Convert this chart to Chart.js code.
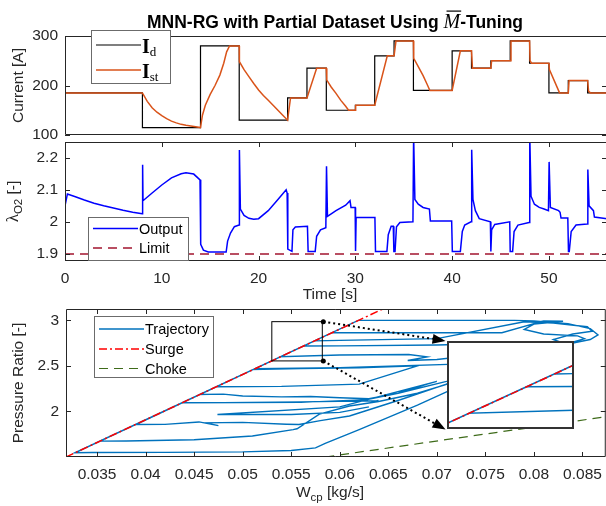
<!DOCTYPE html>
<html lang="en">
<head>
<meta charset="UTF-8">
<title>MNN-RG with Partial Dataset</title>
<script src="https://cdn.jsdelivr.net/npm/chart.js"></script>
<style>
  body { margin: 0; background: #fff; overflow: hidden; }
  #wrap { position: relative; width: 606px; height: 506px; overflow: hidden; background: #fff; }
  canvas { position: absolute; left: 0; top: 0; }
</style>
</head>
<body>
<div id="wrap">
  <canvas id="cTop" width="610" height="506"></canvas>
  <canvas id="cMid" width="610" height="506"></canvas>
  <canvas id="cBot" width="610" height="506"></canvas>
  <canvas id="cIns" width="10" height="10"></canvas>
</div>
<script>
// ---------- data ----------
// demanded current I_d : step times [s] and the level that starts there [A]
const idTime  = [0, 8, 14, 18, 23, 25, 27, 30, 32, 34, 36, 40, 42, 44, 46, 48, 50, 52, 54, 56];
const idLevel = [185, 115, 280, 130, 175, 235, 150, 160, 260, 290, 190, 270, 235, 250, 290, 245, 185, 210, 185, 185];

// stack current I_st
const istTime = [0, 8, 8.5, 9, 9.5, 10, 10.5, 11, 11.5, 12, 12.5, 13, 13.5, 14,
  14.2, 14.5, 15, 15.5, 16, 16.4, 16.7, 17, 18,
  18.02, 18.5, 19, 19.5, 20, 20.5, 21, 21.5, 22, 22.5, 23,
  23.3, 25, 26, 27, 27.05, 27.5, 28, 28.5, 29, 29.3, 30, 30.03, 32, 33.3, 34, 34.2, 36,
  36.03, 36.5, 37, 37.4, 37.7, 40, 40.85, 42, 42.1, 44, 44.08, 46, 46.08, 48, 48.05, 48.2, 50,
  50.05, 51.1, 52, 52.08, 54, 54.1, 54.3, 56];
const istValue = [185, 185, 168, 155, 146, 139, 133, 128, 124.5, 121.5, 119.5, 118, 116.5, 115,
  140, 160, 182, 200, 221, 245, 268, 280, 280,
  248, 232, 218, 204, 191, 180, 170, 160, 150, 140, 130,
  175, 175, 235, 235, 211, 197, 184, 170, 158, 150, 150, 160, 160, 260, 260, 290, 290,
  255, 238, 220, 203, 190, 190, 270, 270, 235, 235, 250, 250, 290, 290, 250, 245, 245,
  232, 185, 185, 210, 210, 188, 185, 185];

// oxygen excess ratio lambda_O2
const lamTime = [0, 0.25, 1, 2, 3, 4, 5, 6, 7, 7.98, 8.02, 8.06, 9, 10, 11, 12, 12.5, 13.3, 13.95,
  14.02, 14.3, 14.8, 16.65, 16.8, 17.1, 17.5, 17.98, 18.02, 18.12, 18.5, 19, 19.5, 20, 21, 22, 22.85, 22.95,
  23.02, 23.45, 23.55, 23.8, 25.05, 25.12, 25.85, 26, 26.4, 26.95, 27.02, 27.12, 28, 29, 29.45, 29.55, 29.98,
  30.02, 30.08, 32.02, 32.08, 33.26, 33.4, 33.7, 33.92, 33.98, 34.1, 34.25, 34.6, 35.95,
  36.02, 36.15, 36.5, 37, 37.65, 37.75, 39.95, 40.02, 40.85, 41.05, 41.3, 41.95,
  42.02, 42.15, 42.4, 42.8, 43.95, 44, 44.08, 44.4, 45.95, 46, 46.25, 46.4, 46.8, 47.95,
  48.02, 48.15, 48.5, 49, 49.5, 49.95, 50.02, 50.15, 51, 51.15, 51.25, 51.95,
  52.02, 52.1, 52.3, 52.8, 53.95, 54.02, 54.15, 54.6, 54.7, 56];
const lamValue = [2.05, 2.087, 2.079, 2.068, 2.058, 2.05, 2.043, 2.036, 2.03, 2.025, 2.178, 2.066, 2.09, 2.115, 2.137, 2.15, 2.153, 2.149, 2.131,
  1.93, 1.912, 1.906, 1.906, 1.94, 1.965, 1.985, 1.99, 2.224, 2.04, 2.02, 2.011, 2.008, 2.01, 2.035, 2.07, 2.1, 2.09,
  1.915, 1.908, 1.975, 1.984, 1.986, 1.908, 1.908, 1.955, 1.975, 1.982, 2.173, 2.017, 2.035, 2.052, 2.066, 2.045, 2.045,
  1.909, 2.014, 2.014, 1.908, 1.908, 1.96, 1.986, 1.986, 1.908, 1.908, 1.985, 1.998, 2.0,
  2.27, 2.07, 2.055, 2.045, 2.04, 2.003, 2.003, 1.908, 1.908, 1.97, 1.99, 2.0,
  2.225, 2.07, 2.035, 2.01, 2.0, 1.908, 1.975, 1.992, 2.0, 1.908, 1.908, 1.97, 1.99, 1.998,
  2.27, 2.08, 2.055, 2.045, 2.04, 2.035, 2.187, 2.045, 2.035, 2.03, 2.012, 2.012,
  1.908, 1.908, 1.97, 1.99, 1.993, 2.163, 2.05, 2.035, 2.015, 2.01];
const lamLimit = 1.9;

// compressor map: trajectory (W_cp [kg/s], pressure ratio [-])
const trajW = [0.0640, 0.0638, 0.0560, 0.0480, 0.04375, 0.03272, 0.0345, 0.0420, 0.0500, 0.0550, 0.0575,
  0.0585, 0.0620, 0.0680, 0.0740, 0.0790, 0.0830, 0.0858, 0.0866, 0.0858, 0.0835, 0.0800, 0.0780, 0.0700, 0.0619,
  0.03529, 0.0380, 0.0450, 0.0510, 0.0552, 0.0556, 0.0579, 0.0610, 0.0640,
  0.0680, 0.0720, 0.0760, 0.0755, 0.0720, 0.0600, 0.05128,
  0.03905, 0.0420, 0.0455, 0.0475, 0.0462, 0.0500, 0.0545, 0.0558,
  0.0580, 0.0610, 0.0660, 0.0709, 0.0760, 0.0810, 0.0840, 0.0852, 0.0845, 0.0810, 0.0790, 0.0800, 0.0830, 0.0810,
  0.0767, 0.0650, 0.05921, 0.04560, 0.0480, 0.0500, 0.0540, 0.0570, 0.0600, 0.0630,
  0.0660, 0.0710, 0.0760, 0.0800, 0.0830, 0.0835, 0.0810,
  0.0700, 0.0600, 0.05626, 0.05391, 0.0600, 0.0671, 0.0690, 0.0670, 0.0700,
  0.0760, 0.0800, 0.0830, 0.0820, 0.0840, 0.0860, 0.0855, 0.0820, 0.0790,
  0.0700, 0.0600, 0.05740, 0.05112, 0.0560, 0.0620, 0.0680,
  0.0620, 0.0540, 0.04728, 0.04375, 0.0500, 0.0560, 0.0628,
  0.0660, 0.0690, 0.0700, 0.0600, 0.0474, 0.0550, 0.0600, 0.0630];
const trajP = [2.120, 2.118, 2.105, 2.097, 2.095, 1.546, 1.549, 1.551, 1.556, 1.572, 1.600,
  1.650, 1.800, 2.070, 2.360, 2.580, 2.730, 2.790, 2.840, 2.910, 2.965, 2.995, 3.000, 3.000, 3.000,
  1.674, 1.676, 1.690, 1.730, 1.800, 1.810, 1.970, 2.060, 2.110,
  2.200, 2.330, 2.470, 2.520, 2.520, 2.480, 2.470,
  1.857, 1.858, 1.885, 1.845, 1.875, 1.880, 1.860, 1.857,
  1.900, 1.950, 2.120, 2.297, 2.520, 2.700, 2.760, 2.800, 2.830, 2.850, 2.900, 2.960, 2.990, 2.995,
  2.865, 2.865, 2.865, 2.187, 2.190, 2.170, 2.160, 2.165, 2.150, 2.140,
  2.200, 2.330, 2.480, 2.620, 2.700, 2.740, 2.760,
  2.730, 2.720, 2.718, 2.601, 2.620, 2.626, 2.600, 2.560, 2.570,
  2.640, 2.720, 2.750, 2.790, 2.850, 2.880, 2.930, 2.970, 2.985,
  2.800, 2.780, 2.775, 2.462, 2.470, 2.480, 2.500,
  2.300, 2.275, 2.271, 2.095, 2.097, 2.100, 2.130,
  2.200, 2.300, 2.330, 2.050, 1.967, 1.967, 1.990, 2.050];
const surgeW = [0.0318, 0.0650];
const surgeP = [1.5, 3.153];
const chokeW = [0.0585, 0.0880];
const chokeP = [1.5, 1.951];
const zoomBoxW = [0.0530, 0.0582];      // small box on the map
const zoomBoxP = [2.555, 2.986];
const insetViewW = [0.0530, 0.0582];    // limits shown in the inset
const insetViewP = [2.531, 2.921];
const insetPlaceW = [0.0710, 0.0841];   // where the inset sits on the map
const insetPlaceP = [1.802, 2.775];

// ticks
const topYTicks = [100, 200, 300];
const midYTicks = [1.9, 2, 2.1, 2.2];
const timeTicks = [0, 10, 20, 30, 40, 50];
const botYTicks = [2, 2.5, 3];
const wTicks = [0.035, 0.04, 0.045, 0.05, 0.055, 0.06, 0.065, 0.07, 0.075, 0.08, 0.085];

// ---------- helpers ----------
const AX = '#262626';
const SANS = '"Liberation Sans", Arial, sans-serif';
Chart.defaults.font.family = SANS;
Chart.defaults.font.size = 15.5;
Chart.defaults.color = AX;
Chart.defaults.animation = false;

const pts = (xs, ys) => xs.map((x, i) => ({x: x, y: ys[i]}));
const fixTicks = vals => s => { s.ticks = vals.map(v => ({value: v})); };

// box + inward tick marks like matlab
const boxPlugin = {
  id: 'mbox',
  afterDatasetsDraw(chart, args, o) {
    const {ctx, chartArea: a, scales} = chart;
    ctx.save();
    ctx.strokeStyle = AX;
    ctx.lineWidth = 1;
    ctx.beginPath();
    ctx.rect(a.left + 0.5, a.top + 0.5, a.right - a.left - 1, a.bottom - a.top - 1);
    (o.x || []).forEach(v => {
      const p = Math.round(scales.x.getPixelForValue(v)) + 0.5;
      ctx.moveTo(p, a.top); ctx.lineTo(p, a.top + 5);
      ctx.moveTo(p, a.bottom); ctx.lineTo(p, a.bottom - 5);
    });
    (o.y || []).forEach(v => {
      const p = Math.round(scales.y.getPixelForValue(v)) + 0.5;
      ctx.moveTo(a.left, p); ctx.lineTo(a.left + 5, p);
      ctx.moveTo(a.right, p); ctx.lineTo(a.right - 5, p);
    });
    ctx.stroke();
    ctx.restore();
  }
};

// text pieces: [text, font, dy, overbar]
function drawPieces(ctx, x, y, pieces, align) {
  let w = 0;
  pieces.forEach(p => { ctx.font = p[1]; w += ctx.measureText(p[0]).width; });
  let cx = align === 'center' ? x - w / 2 : x;
  pieces.forEach(p => {
    ctx.font = p[1];
    const pw = ctx.measureText(p[0]).width;
    ctx.fillText(p[0], cx, y + (p[2] || 0));
    if (p[3]) {
      ctx.fillRect(cx + 3, y - p[3], pw - 2, 1.2);
    }
    cx += pw;
  });
}

function legendBox(ctx, x0, y0, w, h, rows, textX, fontSpec) {
  ctx.save();
  ctx.fillStyle = '#fff';
  ctx.fillRect(x0, y0, w, h);
  ctx.strokeStyle = '#6b6b6b';
  ctx.lineWidth = 1;
  ctx.strokeRect(x0 + 0.5, y0 + 0.5, w - 1, h - 1);
  rows.forEach(r => {
    ctx.beginPath();
    ctx.strokeStyle = r.color;
    ctx.lineWidth = r.width || 1.5;
    ctx.setLineDash(r.dash || []);
    ctx.moveTo(x0 + 5, r.y); ctx.lineTo(x0 + 50, r.y);
    ctx.stroke();
    ctx.setLineDash([]);
    ctx.fillStyle = '#000';
    ctx.textBaseline = 'alphabetic';
    drawPieces(ctx, x0 + textX, r.y + (r.base || 5), r.pieces || [[r.text, fontSpec]]);
  });
  ctx.restore();
}

function vLabel(ctx, x, y, pieces) {
  ctx.save();
  ctx.translate(x, y);
  ctx.rotate(-Math.PI / 2);
  ctx.fillStyle = AX;
  ctx.textBaseline = 'alphabetic';
  drawPieces(ctx, 0, 0, pieces, 'center');
  ctx.restore();
}

const FONT = '15.5px ' + SANS;
const LFONT = '14.5px ' + SANS;

function baseScales(xr, yr, xTicks, yTicks, showX, xH, yW) {
  return {
    x: {
      type: 'linear', min: xr[0], max: xr[1], display: showX,
      grid: {display: false, drawTicks: false}, border: {display: false},
      afterBuildTicks: fixTicks(xTicks),
      afterFit: s => { s.height = xH; },
      ticks: {padding: 8, maxRotation: 0, autoSkip: false, callback: v => String(v)}
    },
    y: {
      type: 'linear', min: yr[0], max: yr[1],
      grid: {display: false, drawTicks: false}, border: {display: false},
      afterBuildTicks: fixTicks(yTicks),
      afterFit: s => { s.width = yW; },
      ticks: {padding: 7, autoSkip: false, callback: v => String(v)}
    }
  };
}

// ---------- top: currents ----------
new Chart(document.getElementById('cTop'), {
  type: 'line',
  data: {datasets: [
    {data: pts(istTime, istValue), borderColor: '#D95319', borderWidth: 1.5, pointRadius: 0, tension: 0},
    {data: pts(idTime, idLevel), stepped: true, borderColor: '#000', borderWidth: 1.2, pointRadius: 0}
  ]},
  options: {
    responsive: false, events: [],
    layout: {padding: {left: 0, top: 36, right: 3, bottom: 371}},
    scales: baseScales([0, 56], [100, 300], [], topYTicks, false, 0, 65),
    plugins: {
      legend: {display: false}, tooltip: {enabled: false},
      mbox: {y: topYTicks}
    }
  },
  plugins: [boxPlugin, {
    id: 'topDeco',
    afterDraw(chart) {
      const ctx = chart.ctx, a = chart.chartArea;
      ctx.save();
      ctx.fillStyle = '#000';
      ctx.textBaseline = 'alphabetic';
      drawPieces(ctx, 335, 27.5, [
        ['MNN-RG with Partial Dataset Using ', 'bold 17.5px ' + SANS],
        ['M', 'italic 20px "Liberation Serif", serif', 0, 17],
        ['-Tuning', 'bold 17.5px ' + SANS]
      ], 'center');
      ctx.restore();
      vLabel(ctx, 23, (a.top + a.bottom) / 2, [['Current [A]', FONT]]);
      const SB = 'bold 20px "Liberation Serif", serif', SS = '13px "Liberation Serif", serif';
      legendBox(ctx, a.left + 26, 30, 80, 54, [
        {y: 45, color: '#000', width: 1.2, pieces: [['I', SB], ['d', SS, 3]], base: 8},
        {y: 70, color: '#D95319', pieces: [['I', SB], ['st', SS, 3]], base: 8}
      ], 51);
    }
  }]
});

// ---------- middle: lambda ----------
new Chart(document.getElementById('cMid'), {
  type: 'line',
  data: {datasets: [
    {data: pts(lamTime, lamValue), borderColor: '#0000FF', borderWidth: 1.5, pointRadius: 0},
    {data: pts([0, 56], [lamLimit, lamLimit]), borderColor: '#A2142F', borderWidth: 1.5, borderDash: [9, 6], pointRadius: 0}
  ]},
  options: {
    responsive: false, events: [],
    layout: {padding: {left: 0, top: 142, right: 3, bottom: 215}},
    scales: baseScales([0, 56], [1.878, 2.249], timeTicks, midYTicks, true, 30, 65),
    plugins: {
      legend: {display: false}, tooltip: {enabled: false},
      mbox: {x: timeTicks, y: midYTicks}
    }
  },
  plugins: [boxPlugin, {
    id: 'midDeco',
    afterDraw(chart) {
      const ctx = chart.ctx, a = chart.chartArea;
      vLabel(ctx, 18, (a.top + a.bottom) / 2, [
        ['\u03BB', '17px "Liberation Serif", serif'], ['O2', '11.5px ' + SANS, 4], [' [-]', FONT]
      ]);
      ctx.save();
      ctx.fillStyle = AX;
      ctx.textBaseline = 'alphabetic';
      drawPieces(ctx, 330, 298.5, [['Time [s]', FONT]], 'center');
      ctx.restore();
      legendBox(ctx, a.left + 23, 217, 101, 44, [
        {y: 228.5, color: '#0000FF', text: 'Output'},
        {y: 248, color: '#A2142F', width: 1.5, dash: [9, 6], text: 'Limit'}
      ], 51, LFONT);
    }
  }]
});

// ---------- bottom: compressor map ----------
// surge/choke listed first so they are painted over the trajectory
const surgeDs = {data: pts(surgeW, surgeP), borderColor: '#FF0000', borderWidth: 1.5, borderDash: [8, 3, 2, 3], pointRadius: 0};
const chokeDs = {data: pts(chokeW, chokeP), borderColor: '#3E6B1A', borderWidth: 1.2, borderDash: [9, 6], pointRadius: 0};
const trajDs = {data: pts(trajW, trajP), borderColor: '#0072BD', borderWidth: 1.4, pointRadius: 0};

function arrow(ctx, x0, y0, x1, y1) {
  const ang = Math.atan2(y1 - y0, x1 - x0), L = 13, W = 5;
  ctx.beginPath();
  ctx.setLineDash([2, 3]);
  ctx.lineWidth = 2;
  ctx.moveTo(x0, y0);
  ctx.lineTo(x1 - L * Math.cos(ang), y1 - L * Math.sin(ang));
  ctx.stroke();
  ctx.setLineDash([]);
  ctx.beginPath();
  ctx.arc(x0, y0, 2.5, 0, Math.PI * 2);
  ctx.fill();
  ctx.beginPath();
  ctx.moveTo(x1, y1);
  ctx.lineTo(x1 - L * Math.cos(ang) + W * Math.sin(ang), y1 - L * Math.sin(ang) - W * Math.cos(ang));
  ctx.lineTo(x1 - L * Math.cos(ang) - W * Math.sin(ang), y1 - L * Math.sin(ang) + W * Math.cos(ang));
  ctx.closePath();
  ctx.fill();
}

const botChart = new Chart(document.getElementById('cBot'), {
  type: 'line',
  data: {datasets: [surgeDs, chokeDs, trajDs]},
  options: {
    responsive: false, events: [],
    layout: {padding: {left: 0, top: 309, right: 3, bottom: 19}},
    scales: baseScales([0.0318, 0.0874], [1.5, 3.125], wTicks, botYTicks, true, 30, 66),
    plugins: {
      legend: {display: false}, tooltip: {enabled: false},
      mbox: {x: wTicks, y: botYTicks}
    }
  },
  plugins: [boxPlugin, {
    id: 'botDeco',
    afterDraw(chart) {
      const ctx = chart.ctx, a = chart.chartArea, sx = chart.scales.x, sy = chart.scales.y;
      vLabel(ctx, 23, (a.top + a.bottom) / 2, [['Pressure Ratio [-]', FONT]]);
      ctx.save();
      ctx.fillStyle = AX;
      ctx.textBaseline = 'alphabetic';
      drawPieces(ctx, 330, 497, [['W', FONT], ['cp', '11.5px ' + SANS, 4], [' [kg/s]', FONT]], 'center');
      // zoom box
      const bx0 = sx.getPixelForValue(zoomBoxW[0]), bx1 = sx.getPixelForValue(zoomBoxW[1]);
      const by0 = sy.getPixelForValue(zoomBoxP[1]), by1 = sy.getPixelForValue(zoomBoxP[0]);
      ctx.strokeStyle = '#000';
      ctx.lineWidth = 1;
      ctx.strokeRect(bx0, by0, bx1 - bx0, by1 - by0);
      ctx.fillStyle = '#000';
      ctx.strokeStyle = '#000';
      const ix = sx.getPixelForValue(insetPlaceW[0]);
      const iy0 = sy.getPixelForValue(insetPlaceP[1]), iy1 = sy.getPixelForValue(insetPlaceP[0]);
      arrow(ctx, bx1 + 1, by0, ix - 1, iy0);
      arrow(ctx, bx1 + 1, by1, ix - 1, iy1);
      ctx.restore();
      legendBox(ctx, a.left + 28, 316, 120, 62, [
        {y: 329, color: '#0072BD', text: 'Trajectory'},
        {y: 349, color: '#FF0000', dash: [8, 3, 2, 3], text: 'Surge'},
        {y: 368.5, color: '#3E6B1A', width: 1.2, dash: [9, 6], text: 'Choke'}
      ], 51, LFONT);
    }
  }]
});

// ---------- inset ----------
(function () {
  const sx = botChart.scales.x, sy = botChart.scales.y;
  const l = Math.round(sx.getPixelForValue(insetPlaceW[0])), r = Math.round(sx.getPixelForValue(insetPlaceW[1]));
  const t = Math.round(sy.getPixelForValue(insetPlaceP[1])), b = Math.round(sy.getPixelForValue(insetPlaceP[0]));
  const cv = document.getElementById('cIns');
  cv.width = r - l; cv.height = b - t;
  cv.style.left = l + 'px'; cv.style.top = t + 'px';
  new Chart(cv, {
    type: 'line',
    data: {datasets: [
      Object.assign({}, surgeDs, {data: pts(surgeW, surgeP)}),
      Object.assign({}, trajDs, {data: pts(trajW, trajP)})
    ]},
    options: {
      responsive: false, events: [],
      layout: {padding: 0},
      scales: {
        x: {type: 'linear', display: false, min: insetViewW[0], max: insetViewW[1]},
        y: {type: 'linear', display: false, min: insetViewP[0], max: insetViewP[1]}
      },
      plugins: {legend: {display: false}, tooltip: {enabled: false}}
    },
    plugins: [{
      id: 'insBg',
      beforeDraw(c) { c.ctx.fillStyle = '#fff'; c.ctx.fillRect(0, 0, c.width, c.height); },
      afterDraw(c) {
        c.ctx.strokeStyle = '#333';
        c.ctx.lineWidth = 2;
        c.ctx.strokeRect(1, 1, c.width - 2, c.height - 2);
      }
    }]
  });
})();
</script>
</body>
</html>
